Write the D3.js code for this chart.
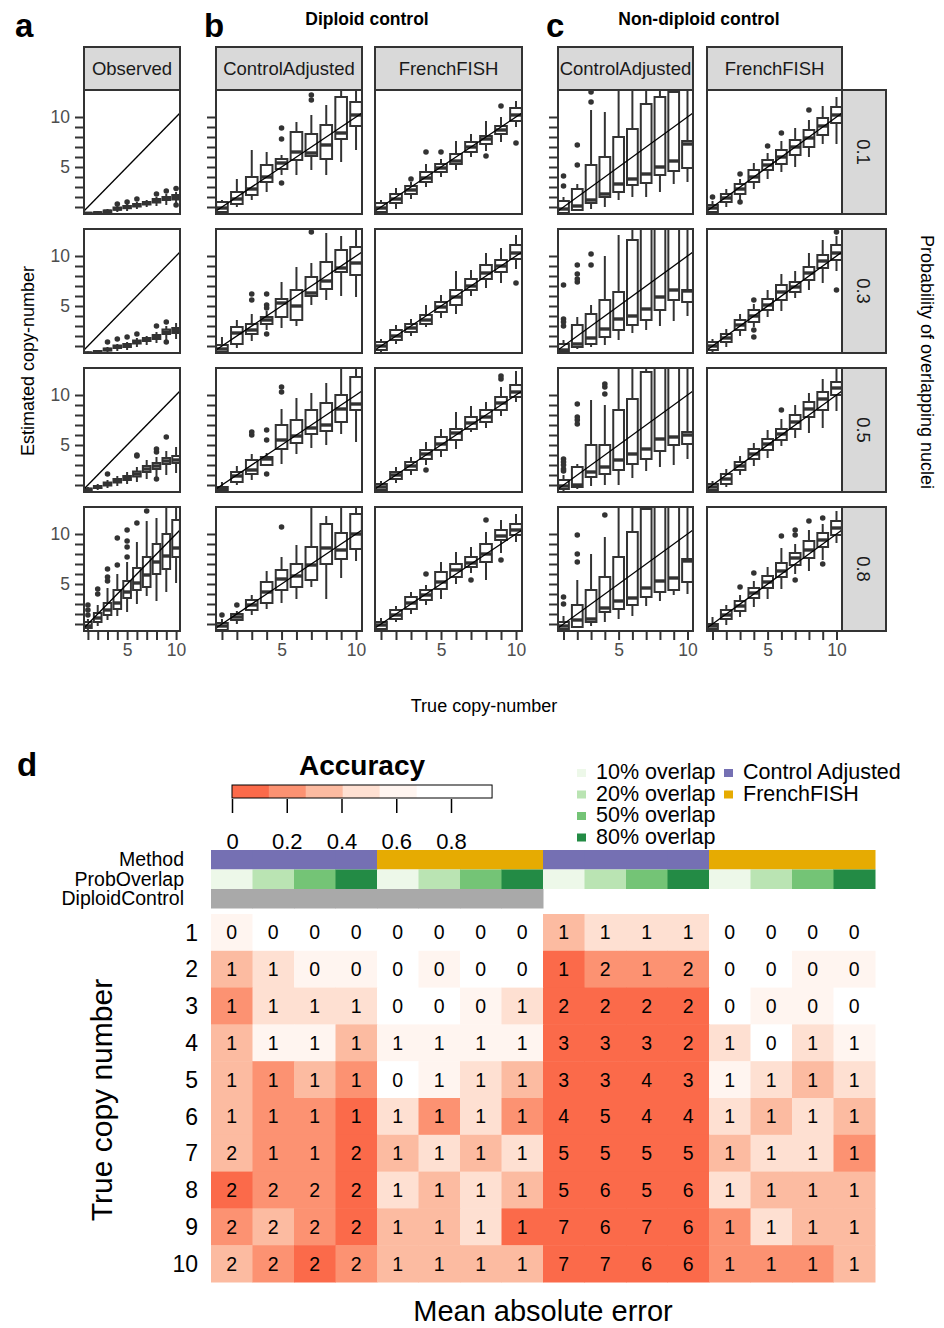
<!DOCTYPE html>
<html>
<head>
<meta charset="utf-8">
<script src="https://cdn.jsdelivr.net/npm/d3@7"></script>
<style>
  body { margin: 0; background: #fff; }
  svg { display: block; font-family: "Liberation Sans", Arial, Helvetica, sans-serif; }
</style>
</head>
<body>
<div id="chart"></div>
<script>
// ---------------- data ----------------
var trueCN = [1, 2, 3, 4, 5, 6, 7, 8, 9, 10];
var labelledTicks = [5, 10];
var probLabels = ["0.1", "0.3", "0.5", "0.8"];
var panelNames = ["Observed", "ControlAdjusted", "FrenchFISH", "ControlAdjusted", "FrenchFISH"];

// each box: [lower whisker, q1, median, q3, upper whisker, [outliers]]
var observedBoxes = [
  [[0.3,0.33,0.36,0.42,0.5,[]],[0.3,0.38,0.42,0.48,0.6,[]],[0.4,0.5,0.58,0.65,0.8,[]],[0.5,0.72,0.82,0.95,1.1,[1.3]],[0.6,0.88,1.0,1.1,1.3,[1.5]],
   [0.8,1.05,1.2,1.3,1.5,[1.8]],[1.0,1.25,1.4,1.5,1.7,[]],[1.1,1.45,1.65,1.8,2.0,[2.3]],[1.2,1.7,1.85,2.0,2.3,[2.6]],[1.3,1.75,1.95,2.2,2.5,[2.85,1.2]]],
  [[0.2,0.25,0.3,0.35,0.45,[]],[0.3,0.35,0.42,0.5,0.6,[]],[0.4,0.55,0.65,0.75,0.9,[1.4]],[0.5,0.8,0.9,1.05,1.2,[1.7]],[0.6,0.9,1.05,1.2,1.4,[1.9]],
   [0.9,1.25,1.4,1.55,1.8,[2.2]],[1.1,1.5,1.65,1.8,2.0,[]],[1.3,1.7,1.9,2.1,2.4,[3.0]],[1.6,2.2,2.4,2.65,3.0,[3.4,1.4]],[1.7,2.3,2.55,2.8,3.3,[]]],
  [[0.4,0.5,0.55,0.65,0.8,[]],[0.5,0.7,0.8,0.9,1.1,[]],[0.7,0.95,1.1,1.25,1.5,[2.1]],[0.9,1.25,1.4,1.6,1.9,[]],[1.1,1.5,1.7,1.9,2.3,[]],
   [1.3,1.85,2.1,2.35,2.8,[3.9,4.0]],[1.6,2.3,2.6,2.9,3.5,[]],[1.7,2.6,2.9,3.2,3.8,[4.6,4.3,1.6]],[2.0,3.1,3.4,3.7,4.4,[5.8]],[2.2,3.2,3.5,3.9,4.8,[]]],
  [[0.4,0.6,0.8,1.2,1.5,[1.9,2.4,2.9]],[0.8,1.2,1.6,2.1,2.9,[4.0,4.5]],[1.4,1.9,2.4,3.1,4.6,[5.3,5.7,6.5]],[1.8,2.5,3.1,4.4,6.0,[6.9,9.6]],[2.2,3.6,4.2,5.3,7.2,[7.7,8.7,9.3,10.4]],
   [3.0,4.4,5.1,6.6,9.2,[11.1]],[3.8,4.7,5.9,7.7,11.3,[12.3]],[3.3,6.0,7.2,9.0,11.6,[]],[4.2,6.5,7.8,10.0,12.6,[]],[5.1,7.7,8.6,11.4,12.6,[]]]
];
var diploidAdjustedBoxes = [
  [[0.3,0.5,0.9,1.5,1.7,[]],[1.0,1.3,1.8,2.5,3.8,[]],[1.7,2.2,2.8,4.0,6.7,[]],[2.5,3.5,4.0,5.2,6.5,[]],[4.2,4.8,5.4,5.8,6.2,[8.9,7.8,3.4]],
   [4.2,5.7,6.5,8.5,9.5,[]],[4.7,6.1,6.4,8.3,10.2,[11.7,12.2]],[4.2,5.8,7.2,9.2,11.2,[]],[5.5,7.8,8.4,12.0,12.6,[]],[6.7,9.1,10.2,11.5,12.6,[]]],
  [[0.3,0.4,0.7,1.1,1.9,[]],[0.8,1.2,2.3,2.9,3.6,[]],[1.5,2.2,2.6,3.2,4.2,[5.6,6.2]],[2.6,3.2,3.6,3.9,4.5,[6.2,5.1,4.8,2.2]],[2.8,3.9,5.3,5.7,7.4,[]],
   [3.0,3.6,5.0,6.6,8.9,[]],[5.1,6.0,6.3,7.9,9.3,[12.4]],[5.6,6.7,7.5,9.4,12.3,[]],[6.0,8.4,8.8,10.6,12.0,[]],[5.9,8.1,9.3,10.9,12.6,[]]],
  [[0.3,0.5,0.65,0.8,1.3,[]],[1.0,1.3,1.9,2.3,2.9,[]],[1.5,2.1,2.5,3.5,4.1,[6.0,6.3]],[2.9,3.0,3.6,3.8,4.2,[6.5,5.5,2.1]],[3.1,4.6,5.5,7.0,8.6,[10.3,10.8]],
   [4.1,5.2,5.9,7.5,9.7,[]],[4.7,6.1,6.7,8.5,10.2,[]],[5.0,6.4,7.0,9.2,11.2,[]],[6.1,7.3,8.6,10.0,12.6,[]],[5.3,8.5,9.1,11.8,12.6,[]]],
  [[0.3,0.4,0.8,1.1,1.5,[1.9]],[1.0,1.4,1.7,2.0,2.3,[2.9]],[1.9,2.4,2.9,3.4,3.9,[]],[2.5,3.1,4.2,5.2,6.3,[]],[3.1,4.4,5.5,6.4,7.7,[10.7]],
   [3.5,4.7,5.8,7.0,8.9,[]],[4.7,5.4,6.9,8.7,12.6,[]],[3.5,7.0,8.6,11.0,11.8,[]],[5.6,7.5,8.4,10.1,12.6,[]],[7.3,8.5,10.0,12.0,12.6,[]]]
];
var diploidFrenchBoxes = [
  [[0.3,0.5,0.9,1.4,1.7,[]],[0.8,1.4,1.8,2.3,2.9,[]],[1.8,2.3,2.7,3.1,3.5,[3.8]],[3.0,3.5,3.9,4.5,5.3,[6.5]],[4.0,4.5,4.9,5.3,5.8,[6.5]],
   [4.7,5.3,5.6,6.3,7.6,[]],[6.0,6.5,7.0,7.5,8.3,[]],[6.6,7.3,7.8,8.1,9.6,[6.1]],[7.5,8.3,8.7,9.1,10.0,[11.1]],[9.0,9.6,10.2,10.9,11.6,[7.4]]],
  [[0.3,0.6,1.0,1.4,1.7,[]],[1.2,1.6,2.0,2.6,3.1,[]],[2.0,2.4,2.8,3.2,3.7,[]],[2.9,3.2,3.6,4.1,5.1,[]],[3.8,4.4,4.9,5.4,6.1,[]],
   [4.2,5.1,5.9,6.6,8.5,[]],[6.0,6.6,7.0,7.7,8.6,[]],[6.8,7.7,8.3,9.1,10.3,[]],[7.3,8.4,9.0,9.6,10.8,[]],[8.7,9.7,10.3,11.1,12.1,[7.3]]],
  [[0.3,0.5,0.8,1.1,1.4,[]],[1.2,1.6,2.0,2.3,2.8,[]],[2.0,2.5,2.9,3.3,3.8,[]],[3.0,3.6,4.1,4.5,5.3,[2.5]],[3.8,4.5,5.1,5.8,6.6,[]],
   [4.6,5.5,6.2,6.6,8.3,[]],[6.3,6.6,7.2,7.8,8.9,[]],[6.7,7.3,7.8,8.5,9.3,[]],[7.9,8.5,9.2,9.8,10.8,[11.6,11.9]],[9.3,9.8,10.3,11.0,12.4,[]]],
  [[0.3,0.5,0.9,1.2,1.6,[]],[1.2,1.5,1.9,2.4,2.8,[]],[2.0,2.5,3.1,3.7,4.2,[]],[2.9,3.4,3.9,4.4,4.9,[6.0]],[3.5,4.5,5.2,6.2,7.2,[]],
   [5.0,5.7,6.4,7.0,8.2,[]],[6.1,6.7,7.1,7.7,8.7,[5.4]],[5.4,7.2,8.0,9.0,10.2,[11.4]],[8.1,9.4,9.8,10.4,11.4,[7.4]],[9.2,9.9,10.4,11.0,12.0,[]]]
];
var nonDiploidAdjustedBoxes = [
  [[0.3,0.4,0.8,1.6,2.0,[3.1,4.1]],[0.6,0.7,1.1,2.8,3.3,[5.2,7.2]],[0.8,1.4,1.7,5.2,10.7,[11.5,12.5]],[1.0,2.0,2.3,6.0,10.5,[]],[1.7,2.5,3.3,8.0,12.8,[]],
   [2.0,3.2,3.8,8.8,12.8,[]],[2.0,3.4,4.3,11.3,12.8,[]],[2.5,4.2,5.0,12.0,12.8,[]],[3.3,4.6,5.6,12.5,12.8,[]],[3.5,4.9,7.3,7.6,12.8,[]]],
  [[0.3,0.4,0.6,1.2,1.6,[3.0,3.4,3.7,7.1]],[0.7,0.9,1.2,3.1,3.9,[7.4,7.7,8.2,9.1]],[0.9,1.2,1.8,4.2,5.1,[9.1,10.2]],[1.1,1.9,2.7,5.6,10.0,[]],[1.6,2.6,3.7,6.4,12.1,[]],
   [2.3,3.1,4.0,11.6,12.8,[]],[2.6,3.6,4.7,12.9,12.9,[]],[3.0,4.6,5.9,12.9,12.9,[]],[3.5,5.6,6.6,12.9,12.9,[]],[4.0,5.4,6.5,6.6,12.9,[]]],
  [[0.3,0.6,0.9,1.5,2.0,[2.4,2.6,3.0,3.3,3.6]],[0.6,0.8,1.0,2.8,3.1,[7.1,7.5,7.8,9.1]],[0.9,1.8,2.3,5.0,9.5,[]],[1.0,2.1,2.8,5.0,9.0,[10.1,10.8,11.1]],[1.0,2.5,3.5,8.5,12.8,[]],
   [1.7,3.1,4.1,9.6,12.8,[]],[2.4,3.6,4.6,12.3,12.8,[]],[2.8,4.4,5.6,12.9,12.9,[]],[3.0,5.0,5.8,12.9,12.9,[]],[3.6,5.1,6.0,6.3,12.9,[]]],
  [[0.3,0.5,0.8,1.2,1.8,[3.0,3.7]],[0.6,0.7,1.4,2.9,5.4,[7.2,8.0,9.9]],[0.8,1.2,1.5,4.4,8.0,[]],[1.2,2.2,2.6,5.7,9.7,[11.9]],[1.5,2.5,3.3,7.7,12.8,[]],
   [1.8,2.9,3.6,10.2,12.8,[]],[2.8,3.7,4.6,12.5,12.8,[]],[3.3,4.2,5.3,12.9,12.9,[]],[3.9,4.4,5.6,12.9,12.9,[]],[4.0,5.2,7.3,7.5,12.9,[]]]
];
var nonDiploidFrenchBoxes = [
  [[0.3,0.5,0.9,1.2,1.6,[2.0]],[1.0,1.5,1.9,2.3,2.8,[]],[1.7,2.3,2.8,3.3,3.8,[4.3,1.5]],[2.8,3.5,4.0,4.7,5.4,[]],[3.8,4.7,5.2,5.7,6.4,[7.1]],
   [4.5,5.3,6.0,6.7,7.6,[8.4]],[5.0,6.2,7.0,7.7,8.9,[]],[6.0,7.0,7.9,8.7,9.7,[10.7]],[7.3,8.2,9.1,9.9,11.1,[]],[7.3,9.4,10.2,11.0,12.0,[]]],
  [[0.3,0.6,1.0,1.4,1.7,[]],[0.9,1.4,1.8,2.2,2.7,[]],[2.0,2.6,3.1,3.6,4.2,[]],[2.9,3.4,4.0,4.6,5.2,[5.6,2.6,1.9]],[3.9,4.6,5.1,5.7,6.6,[]],
   [4.5,5.6,6.4,7.1,8.2,[]],[5.8,6.4,6.9,7.4,8.5,[]],[6.6,7.6,8.3,8.9,10.3,[]],[7.3,8.8,9.5,10.1,11.6,[]],[8.5,9.6,10.3,11.1,12.0,[12.4,6.6]]],
  [[0.3,0.5,0.8,1.1,1.4,[]],[0.8,1.1,1.6,2.1,2.6,[]],[2.0,2.5,2.9,3.3,3.9,[]],[2.9,3.6,4.1,4.6,5.2,[]],[3.7,4.5,5.1,5.6,6.5,[]],
   [4.9,5.5,6.1,6.6,7.6,[8.5]],[5.7,6.6,7.3,8.0,9.0,[]],[6.2,7.8,8.6,9.3,10.2,[]],[6.7,8.5,9.6,10.3,11.6,[]],[8.4,10.0,10.7,11.3,12.6,[]]],
  [[0.3,0.5,0.8,1.0,1.7,[]],[0.9,1.5,1.9,2.4,2.9,[]],[1.7,2.3,2.8,3.3,3.9,[4.7]],[2.7,3.6,4.1,4.6,5.3,[6.1]],[3.5,4.6,5.2,5.8,6.7,[]],
   [4.5,5.7,6.3,7.1,8.6,[9.8]],[6.0,6.9,7.6,8.1,9.0,[10.4,9.9,5.4]],[6.3,7.6,8.4,9.3,10.4,[11.3]],[7.4,8.7,9.4,10.1,11.0,[11.6,7.0]],[9.1,9.9,10.6,11.3,12.3,[]]]
];

// heatmap (panel d)
var copyNumbers = [1, 2, 3, 4, 5, 6, 7, 8, 9, 10];
var hmMethod = ["Control Adjusted","Control Adjusted","Control Adjusted","Control Adjusted","FrenchFISH","FrenchFISH","FrenchFISH","FrenchFISH",
                "Control Adjusted","Control Adjusted","Control Adjusted","Control Adjusted","FrenchFISH","FrenchFISH","FrenchFISH","FrenchFISH"];
var hmOverlap = ["10% overlap","20% overlap","50% overlap","80% overlap","10% overlap","20% overlap","50% overlap","80% overlap",
                 "10% overlap","20% overlap","50% overlap","80% overlap","10% overlap","20% overlap","50% overlap","80% overlap"];
var hmDiploid = [true,true,true,true,true,true,true,true,false,false,false,false,false,false,false,false];
var maeValues = [
  [0,0,0,0, 0,0,0,0, 1,1,1,1, 0,0,0,0],
  [1,1,0,0, 0,0,0,0, 1,2,1,2, 0,0,0,0],
  [1,1,1,1, 0,0,0,1, 2,2,2,2, 0,0,0,0],
  [1,1,1,1, 1,1,1,1, 3,3,3,2, 1,0,1,1],
  [1,1,1,1, 0,1,1,1, 3,3,4,3, 1,1,1,1],
  [1,1,1,1, 1,1,1,1, 4,5,4,4, 1,1,1,1],
  [2,1,1,2, 1,1,1,1, 5,5,5,5, 1,1,1,1],
  [2,2,2,2, 1,1,1,1, 5,6,5,6, 1,1,1,1],
  [2,2,2,2, 1,1,1,1, 7,6,7,6, 1,1,1,1],
  [2,2,2,2, 1,1,1,1, 7,7,6,6, 1,1,1,1]
];
var accuracyValues = [
  [0.60,0.80,0.80,0.80, 0.80,0.80,0.80,0.80, 0.34,0.47,0.47,0.47, 0.80,0.80,0.80,0.80],
  [0.34,0.47,0.60,0.60, 0.80,0.60,0.80,0.80, 0.06,0.20,0.20,0.20, 0.80,0.80,0.60,0.60],
  [0.20,0.47,0.47,0.47, 0.80,0.80,0.60,0.47, 0.06,0.06,0.06,0.06, 0.80,0.60,0.60,0.80],
  [0.34,0.60,0.60,0.34, 0.60,0.60,0.60,0.60, 0.06,0.06,0.06,0.06, 0.47,0.80,0.47,0.60],
  [0.34,0.20,0.34,0.20, 0.80,0.60,0.47,0.34, 0.06,0.06,0.06,0.06, 0.60,0.47,0.34,0.47],
  [0.34,0.20,0.20,0.06, 0.47,0.20,0.47,0.20, 0.06,0.06,0.06,0.06, 0.47,0.34,0.47,0.34],
  [0.34,0.20,0.20,0.06, 0.34,0.47,0.34,0.47, 0.06,0.06,0.06,0.06, 0.34,0.47,0.47,0.20],
  [0.06,0.20,0.20,0.06, 0.47,0.34,0.47,0.34, 0.06,0.06,0.06,0.06, 0.47,0.34,0.34,0.34],
  [0.20,0.34,0.20,0.06, 0.34,0.34,0.47,0.06, 0.06,0.06,0.06,0.06, 0.20,0.47,0.34,0.34],
  [0.34,0.20,0.06,0.20, 0.34,0.34,0.34,0.34, 0.06,0.06,0.06,0.06, 0.20,0.20,0.20,0.34]
];
var accBreaks = [0, 0.135, 0.27, 0.405, 0.54, 0.675, 0.95];
var accColors = ["#fb6a4a", "#fc9272", "#fcbba1", "#fee0d2", "#fff5f0", "#ffffff"];
var accTicks = [0, 0.2, 0.4, 0.6, 0.8];
var overlapLevels = ["10% overlap", "20% overlap", "50% overlap", "80% overlap"];
var overlapColors = ["#edf8e9", "#bae4b3", "#74c476", "#238b45"];
var methodLevels = ["Control Adjusted", "FrenchFISH"];
var methodColors = ["#7570b3", "#e6ab02"];
var annotationNames = ["Method", "ProbOverlap", "DiploidControl"];

// ---------------- drawing ----------------
var W = 944, H = 1328;
var svg = d3.select("#chart").append("svg").attr("width", W).attr("height", H);
var dark = "#333333";

// panel grid of a/b/c
var columns = [
  { x0: 84,  x1: 180, boxes: observedBoxes,            ticks: true,  labels: true },
  { x0: 216, x1: 362, boxes: diploidAdjustedBoxes,     ticks: true,  labels: false },
  { x0: 375, x1: 522, boxes: diploidFrenchBoxes,       ticks: false, labels: false },
  { x0: 558, x1: 693, boxes: nonDiploidAdjustedBoxes,  ticks: true,  labels: false },
  { x0: 707, x1: 842, boxes: nonDiploidFrenchBoxes,    ticks: false, labels: false }
];
var rowTops = [90, 229, 368, 507];
var panelH = 124;
var stripTop = 47;
var boxW = 0.78;

var defs = svg.append("defs");

columns.forEach(function(col, ci) {
  var x = d3.scaleLinear().domain([0.6, 10.4]).range([col.x0, col.x1]);

  // strip on top
  svg.append("rect")
    .attr("x", col.x0).attr("y", stripTop)
    .attr("width", col.x1 - col.x0).attr("height", rowTops[0] - stripTop)
    .attr("fill", "#d9d9d9").attr("stroke", dark).attr("stroke-width", 2);
  svg.append("text")
    .attr("x", (col.x0 + col.x1) / 2).attr("y", (stripTop + rowTops[0]) / 2)
    .attr("dy", "0.36em").attr("text-anchor", "middle")
    .attr("font-size", "18.5px").attr("fill", "#1a1a1a")
    .text(panelNames[ci]);

  rowTops.forEach(function(top, ri) {
    var y = d3.scaleLinear().domain([0.3, 12.7]).range([top + panelH, top]);
    var clipId = "clip" + ci + "_" + ri;
    defs.append("clipPath").attr("id", clipId)
      .append("rect").attr("x", col.x0).attr("y", top)
      .attr("width", col.x1 - col.x0).attr("height", panelH);

    svg.append("rect").attr("x", col.x0).attr("y", top)
      .attr("width", col.x1 - col.x0).attr("height", panelH).attr("fill", "#fff");

    var inner = svg.append("g").attr("clip-path", "url(#" + clipId + ")");
    var boxes = inner.selectAll("g.box").data(col.boxes[ri]).enter().append("g").attr("class", "box");

    boxes.append("line")
      .attr("x1", function(d, i) { return x(trueCN[i]); })
      .attr("x2", function(d, i) { return x(trueCN[i]); })
      .attr("y1", function(d) { return y(d[0]); })
      .attr("y2", function(d) { return y(d[4]); })
      .attr("stroke", dark).attr("stroke-width", 2);

    boxes.append("rect")
      .attr("x", function(d, i) { return x(trueCN[i] - boxW / 2); })
      .attr("width", x(boxW) - x(0))
      .attr("y", function(d) { return y(d[3]); })
      .attr("height", function(d) { return Math.max(0.5, y(d[1]) - y(d[3])); })
      .attr("fill", "#fff").attr("stroke", dark).attr("stroke-width", 2);

    boxes.append("line")
      .attr("x1", function(d, i) { return x(trueCN[i] - boxW / 2); })
      .attr("x2", function(d, i) { return x(trueCN[i] + boxW / 2); })
      .attr("y1", function(d) { return y(d[2]); })
      .attr("y2", function(d) { return y(d[2]); })
      .attr("stroke", dark).attr("stroke-width", 3.4);

    boxes.each(function(d, i) {
      d3.select(this).selectAll("circle").data(d[5]).enter().append("circle")
        .attr("cx", x(trueCN[i])).attr("cy", function(v) { return y(v); })
        .attr("r", 2.8).attr("fill", dark);
    });

    // y = x reference line
    inner.append("line")
      .attr("x1", x(0.6)).attr("y1", y(0.6))
      .attr("x2", x(12.7)).attr("y2", y(12.7))
      .attr("stroke", "#000").attr("stroke-width", 1.3);

    // panel border
    svg.append("rect").attr("x", col.x0).attr("y", top)
      .attr("width", col.x1 - col.x0).attr("height", panelH)
      .attr("fill", "none").attr("stroke", dark).attr("stroke-width", 2);

    // y axis
    if (col.ticks) {
      var yAxis = d3.axisLeft(y).tickValues(trueCN).tickSize(8).tickPadding(5)
        .tickFormat(function(d) { return col.labels && labelledTicks.indexOf(d) >= 0 ? d : ""; });
      var ga = svg.append("g").attr("transform", "translate(" + (col.x0 - 1) + ",0)").call(yAxis);
      ga.select(".domain").remove();
      ga.selectAll("line").attr("stroke", dark).attr("stroke-width", 2);
      ga.selectAll("text").attr("font-size", "17.5px").attr("fill", "#4d4d4d")
        .attr("font-family", "Liberation Sans, Arial, sans-serif");
    }

    // x axis (bottom row only)
    if (ri === rowTops.length - 1) {
      var xAxis = d3.axisBottom(x).tickValues(trueCN).tickSize(8).tickPadding(4)
        .tickFormat(function(d) { return labelledTicks.indexOf(d) >= 0 ? d : ""; });
      var gx = svg.append("g").attr("transform", "translate(0," + (top + panelH + 1) + ")").call(xAxis);
      gx.select(".domain").remove();
      gx.selectAll("line").attr("stroke", dark).attr("stroke-width", 2);
      gx.selectAll("text").attr("font-size", "17.5px").attr("fill", "#4d4d4d")
        .attr("font-family", "Liberation Sans, Arial, sans-serif");
    }

    // right strip with overlap probability
    if (ci === columns.length - 1) {
      svg.append("rect").attr("x", col.x1).attr("y", top)
        .attr("width", 44).attr("height", panelH)
        .attr("fill", "#d9d9d9").attr("stroke", dark).attr("stroke-width", 2);
      svg.append("text")
        .attr("transform", "translate(" + (col.x1 + 22) + "," + (top + panelH / 2) + ") rotate(90)")
        .attr("text-anchor", "middle").attr("dy", "0.36em")
        .attr("font-size", "18.5px").attr("fill", "#1a1a1a")
        .text(probLabels[ri]);
    }
  });
});

// titles of panels a-c
svg.append("text").attr("x", 15).attr("y", 37).attr("font-size", "33px").attr("font-weight", "bold").text("a");
svg.append("text").attr("x", 204).attr("y", 37).attr("font-size", "33px").attr("font-weight", "bold").text("b");
svg.append("text").attr("x", 546).attr("y", 37).attr("font-size", "33px").attr("font-weight", "bold").text("c");
svg.append("text").attr("x", 367).attr("y", 25).attr("text-anchor", "middle")
  .attr("font-size", "17.5px").attr("font-weight", "bold").text("Diploid control");
svg.append("text").attr("x", 699).attr("y", 25).attr("text-anchor", "middle")
  .attr("font-size", "17.5px").attr("font-weight", "bold").text("Non-diploid control");

svg.append("text")
  .attr("transform", "translate(34,361) rotate(-90)")
  .attr("text-anchor", "middle").attr("font-size", "18px").text("Estimated copy-number");
svg.append("text")
  .attr("x", 484).attr("y", 712).attr("text-anchor", "middle")
  .attr("font-size", "18px").text("True copy-number");
svg.append("text")
  .attr("transform", "translate(921,362) rotate(90)")
  .attr("text-anchor", "middle").attr("font-size", "18px").text("Probability of overlapping nuclei");

// ---------------- panel d: heatmap ----------------
svg.append("text").attr("x", 17).attr("y", 776).attr("font-size", "33px").attr("font-weight", "bold").text("d");

var colIdx = d3.range(hmMethod.length);
var hx = d3.scaleBand().domain(colIdx).range([211, 875]);
var hy = d3.scaleBand().domain(copyNumbers).range([914, 1282]);
var accColor = d3.scaleThreshold().domain(accBreaks.slice(1, 6)).range(accColors);
var methodColor = d3.scaleOrdinal().domain(methodLevels).range(methodColors);
var overlapColor = d3.scaleOrdinal().domain(overlapLevels).range(overlapColors);

// annotation bars
var annY = d3.scaleBand().domain(annotationNames).range([850, 908.5]);
svg.selectAll("rect.ann-m").data(colIdx).enter().append("rect")
  .attr("x", function(d) { return hx(d); }).attr("width", hx.bandwidth() + 0.5)
  .attr("y", annY("Method")).attr("height", annY.bandwidth())
  .attr("fill", function(d) { return methodColor(hmMethod[d]); });
svg.selectAll("rect.ann-o").data(colIdx).enter().append("rect")
  .attr("x", function(d) { return hx(d); }).attr("width", hx.bandwidth() + 0.5)
  .attr("y", annY("ProbOverlap")).attr("height", annY.bandwidth())
  .attr("fill", function(d) { return overlapColor(hmOverlap[d]); });
svg.selectAll("rect.ann-d").data(colIdx.filter(function(d) { return hmDiploid[d]; })).enter().append("rect")
  .attr("x", function(d) { return hx(d); }).attr("width", hx.bandwidth() + 0.5)
  .attr("y", annY("DiploidControl")).attr("height", annY.bandwidth())
  .attr("fill", "#a9a9a9");
svg.selectAll("text.ann-label").data(annotationNames).enter().append("text")
  .attr("x", 184).attr("y", function(d) { return annY(d) + annY.bandwidth() / 2; })
  .attr("dy", "0.34em").attr("text-anchor", "end").attr("font-size", "19.5px")
  .text(function(d) { return d; });

// cells
var cells = [];
copyNumbers.forEach(function(cn, r) {
  colIdx.forEach(function(c) {
    cells.push({ row: cn, col: c, mae: maeValues[r][c], acc: accuracyValues[r][c] });
  });
});
svg.selectAll("rect.cell").data(cells).enter().append("rect")
  .attr("x", function(d) { return hx(d.col); }).attr("y", function(d) { return hy(d.row); })
  .attr("width", hx.bandwidth() + 0.5).attr("height", hy.bandwidth() + 0.5)
  .attr("fill", function(d) { return accColor(d.acc); });
svg.selectAll("text.cell").data(cells).enter().append("text")
  .attr("x", function(d) { return hx(d.col) + hx.bandwidth() / 2; })
  .attr("y", function(d) { return hy(d.row) + hy.bandwidth() / 2; })
  .attr("dy", "0.36em").attr("text-anchor", "middle").attr("font-size", "19.5px")
  .text(function(d) { return d.mae; });

svg.selectAll("text.rowlab").data(copyNumbers).enter().append("text")
  .attr("x", 198).attr("y", function(d) { return hy(d) + hy.bandwidth() / 2; })
  .attr("dy", "0.36em").attr("text-anchor", "end").attr("font-size", "23px")
  .text(function(d) { return d; });

svg.append("text")
  .attr("transform", "translate(112,1100) rotate(-90)")
  .attr("text-anchor", "middle").attr("font-size", "30px").text("True copy number");
svg.append("text")
  .attr("x", 543).attr("y", 1321).attr("text-anchor", "middle")
  .attr("font-size", "29px").text("Mean absolute error");

// accuracy colour legend
svg.append("text").attr("x", 362).attr("y", 775).attr("text-anchor", "middle")
  .attr("font-size", "28px").attr("font-weight", "bold").text("Accuracy");
var ax = d3.scaleLinear().domain([0, 1]).range([232, 505.75]);
var bins = d3.range(accColors.length).map(function(i) { return [accBreaks[i], accBreaks[i + 1], accColors[i]]; });
svg.selectAll("rect.bin").data(bins).enter().append("rect")
  .attr("x", function(d) { return ax(d[0]); }).attr("width", function(d) { return ax(d[1]) - ax(d[0]); })
  .attr("y", 785).attr("height", 13).attr("fill", function(d) { return d[2]; });
svg.append("rect").attr("x", ax(accBreaks[0])).attr("y", 785)
  .attr("width", ax(accBreaks[accBreaks.length - 1]) - ax(accBreaks[0])).attr("height", 13)
  .attr("fill", "none").attr("stroke", "#000").attr("stroke-width", 1);
var accAxis = d3.axisBottom(ax).tickValues(accTicks).tickSize(14).tickPadding(20)
  .tickFormat(function(d) { return d === 0 ? "0" : d3.format(".1f")(d); });
var gacc = svg.append("g").attr("transform", "translate(0,799)").call(accAxis);
gacc.select(".domain").remove();
gacc.selectAll("line").attr("stroke", "#000").attr("stroke-width", 1.5);
gacc.selectAll("text").attr("font-size", "22px").attr("fill", "#000")
  .attr("font-family", "Liberation Sans, Arial, sans-serif");

// discrete legends
var legRowY = d3.scalePoint().domain(d3.range(4)).range([779, 843.5]);
var legO = svg.selectAll("g.lego").data(overlapLevels).enter().append("g");
legO.append("rect").attr("x", 577).attr("y", function(d, i) { return legRowY(i) - 10; })
  .attr("width", 9).attr("height", 8).attr("fill", function(d) { return overlapColor(d); });
legO.append("text").attr("x", 596).attr("y", function(d, i) { return legRowY(i); })
  .attr("font-size", "21.5px").text(function(d) { return d; });
var legM = svg.selectAll("g.legm").data(methodLevels).enter().append("g");
legM.append("rect").attr("x", 724).attr("y", function(d, i) { return legRowY(i) - 10; })
  .attr("width", 9).attr("height", 8).attr("fill", function(d) { return methodColor(d); });
legM.append("text").attr("x", 743).attr("y", function(d, i) { return legRowY(i); })
  .attr("font-size", "21.5px").text(function(d) { return d; });
</script>
</body>
</html>
